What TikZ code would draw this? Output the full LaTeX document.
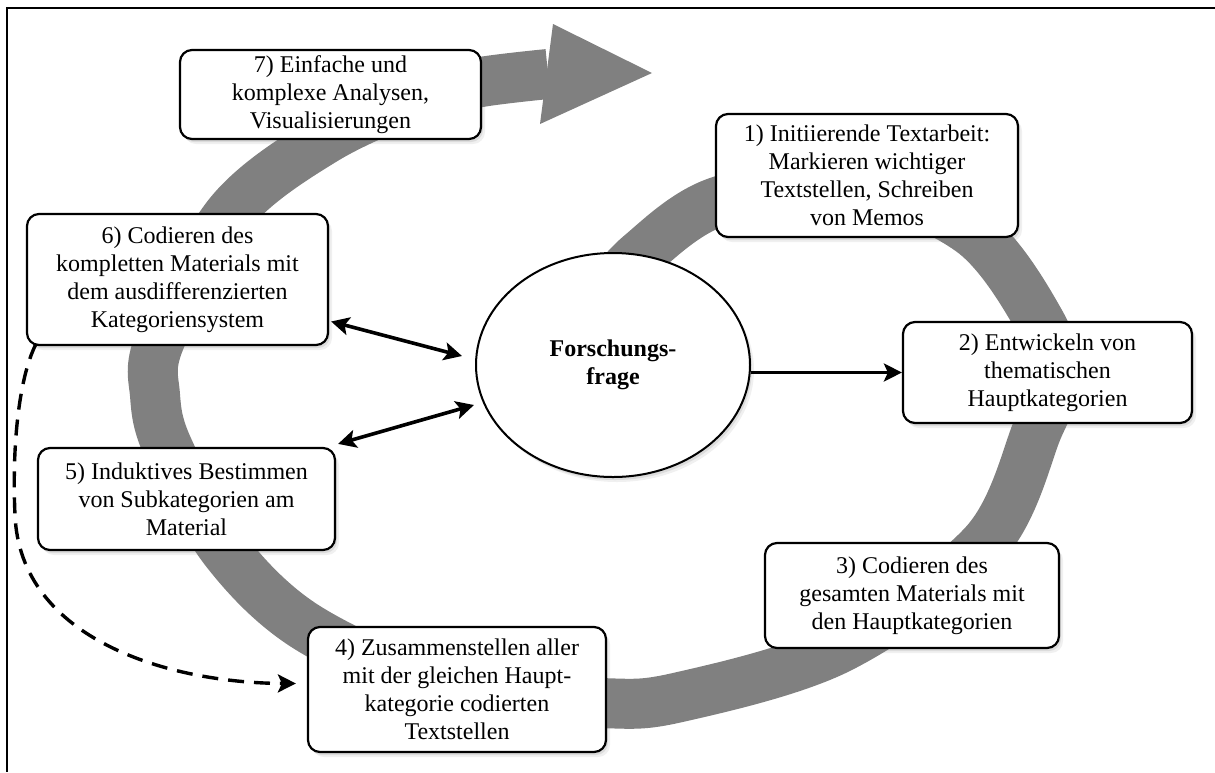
\documentclass[tikz,border=0pt]{standalone}
\usepackage{fontspec}
\setmainfont{Liberation Serif}
\usetikzlibrary{arrows.meta,shapes.geometric,shadows,calc}
\definecolor{bandgray}{HTML}{808080}
\tikzset{headtip/.tip={Stealth[length=9pt,width=9pt,inset=2pt]}}
\begin{document}
\begin{tikzpicture}[x=0.5pt,y=-0.5pt,
  band/.style={draw=bandgray,line width=25pt,line cap=butt},
  softshadow/.style={drop shadow={opacity=0.18,shadow xshift=1pt,shadow yshift=-1.5pt},
                     drop shadow={opacity=0.12,shadow xshift=2pt,shadow yshift=-2.5pt}},
  stepbox/.style={draw=black,line width=1.1pt,fill=white,rounded corners=6pt,
                  align=center,inner sep=0pt,softshadow,
                  font=\fontsize{12}{14}\selectfont},
  core/.style={ellipse,draw=black,line width=1pt,fill=white,inner sep=0pt,
               minimum width=137pt,minimum height=112pt,align=center,softshadow,
               font=\fontsize{12}{14}\selectfont\bfseries},
  dbl/.style={headtip-headtip,line width=1.8pt},
  arr/.style={-headtip,line width=1.8pt},
  dsh/.style={-headtip,line width=1.7pt,dash pattern=on 8pt off 5pt}]
\useasboundingbox (0,0) rectangle (1215,772);
% frame
\draw[line width=1pt] (1215,8) -- (7,8) -- (7,772);
% spiral band
\draw[band] plot[smooth,tension=0.55] coordinates {(600,300) (640,255) (717,202) (850,182) (972,232) (1040,322) (1056,380) (1038,428) (985,543) (840,648) (680,697) (600,703) (450,690) (308,628) (225,550) (168,448) (155,395) (160,340) (230,213) (324,140) (420,96) (481,82) (548,74)};
\fill[bandgray] (553,24) -- (652,73) -- (540,124) -- cycle;
% nodes
\node[stepbox,minimum width=150.5pt,minimum height=44.5pt] (b7) at (330.5,94.5)
  {7) Einfache und\\komplexe Analysen,\\Visualisierungen};
\node[stepbox,minimum width=151pt,minimum height=61.5pt] (b1) at (867,175.5)
  {1) Initiierende Textarbeit:\\Markieren wichtiger\\Textstellen, Schreiben\\von Memos};
\node[stepbox,minimum width=144.5pt,minimum height=50.5pt] (b2) at (1047.5,372.5)
  {2) Entwickeln von\\thematischen\\Hauptkategorien};
\node[stepbox,minimum width=147pt,minimum height=52.5pt] (b3) at (912,595.5)
  {3) Codieren des\\gesamten Materials mit\\den Hauptkategorien};
\node[stepbox,minimum width=149pt,minimum height=62.5pt] (b4) at (457,689.5)
  {4) Zusammenstellen aller\\mit der gleichen Haupt-\\kategorie codierten\\Textstellen};
\node[stepbox,minimum width=148.5pt,minimum height=51pt] (b5) at (186.5,499)
  {5) Induktives Bestimmen\\von Subkategorien am\\Material};
\node[stepbox,minimum width=150.5pt,minimum height=65.5pt] (b6) at (177.5,279.5)
  {6) Codieren des\\kompletten Materials mit\\dem ausdifferenzierten\\Kategoriensystem};
\node[core] (ell) at (613,365) {Forschungs-\\frage};
% connectors
\draw[dbl] ($(b6.east)+(2,42)$) -- ($(ell.west)+(-13,-9)$);
\draw[dbl] ($(b5.north east)+(2,-3)$) -- ($(ell.west)+(-1,40)$);
\draw[arr] (ell.east |- b2.west) -- (b2.west);
\draw[dsh] ($(b6.south west)+(10,-2)$) .. controls (18,380) and (12,450) .. (15,515)
  .. controls (20,640) and (170,683) .. ($(b4.west)+(-11,-6)$);
\end{tikzpicture}
\end{document}
